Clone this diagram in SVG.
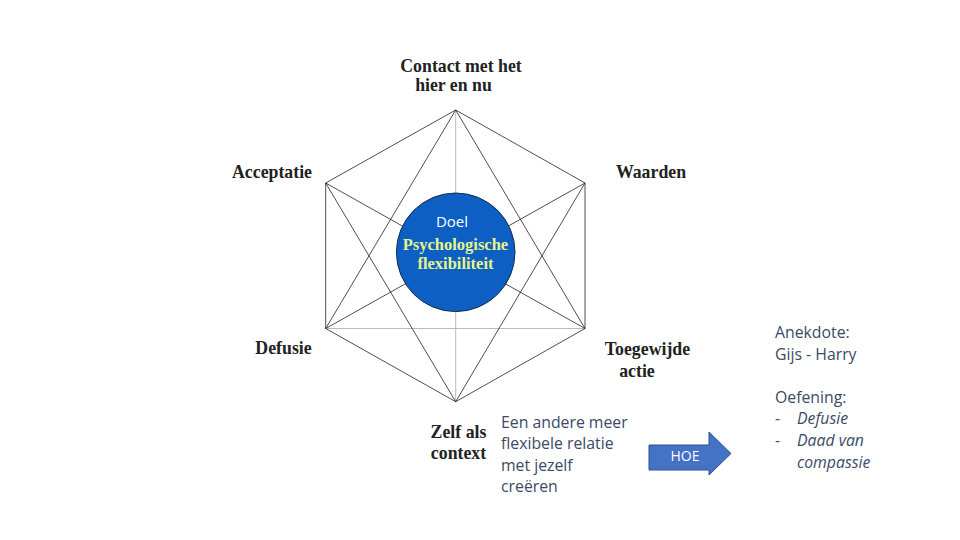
<svg xmlns="http://www.w3.org/2000/svg" width="960" height="540" viewBox="0 0 960 540">
<style>
.lbl{font-family:"Liberation Serif","Times New Roman",serif;font-weight:bold;font-size:17.8px;fill:#222}
.ln{stroke:#222;stroke-width:0.8;fill:none}
.gl{stroke:#aaa;stroke-width:0.8;fill:none}
.txt{font-family:"Open Sans","Noto Sans",sans-serif;font-size:15.8px;fill:#3b4a66}
.inner{font-family:"Liberation Serif","Times New Roman",serif;font-weight:bold;font-size:16.5px;fill:#e6f58a}
</style>
<rect width="960" height="540" fill="#fff"/>
<g id="connectors">
<line class="gl" x1="455.7" y1="110" x2="455.7" y2="401.7"/>
<line class="gl" x1="325.7" y1="328.5" x2="585" y2="328.5"/>
<polygon class="ln" points="455.7,110 585,183 585,328.5 455.7,401.7 325.7,328.5 325.7,183"/>
<line class="ln" x1="455.7" y1="110" x2="325.7" y2="328.5"/>
<line class="ln" x1="455.7" y1="110" x2="585" y2="328.5"/>
<line class="ln" x1="455.7" y1="401.7" x2="325.7" y2="183"/>
<line class="ln" x1="455.7" y1="401.7" x2="585" y2="183"/>
<line class="ln" x1="325.7" y1="183" x2="585" y2="328.5"/>
<line class="ln" x1="585" y1="183" x2="325.7" y2="328.5"/>
</g>
<g id="center">
<circle cx="455.7" cy="252.3" r="59.3" fill="#0d5fc4" stroke="#1b2a4a" stroke-width="1"/>
<text x="452" y="227" text-anchor="middle" font-family="'Open Sans','Noto Sans',sans-serif" font-size="15" fill="#fff">Doel</text>
<text class="inner" x="455.5" y="249.5" text-anchor="middle">Psychologische</text>
<text class="inner" x="455.5" y="268.5" text-anchor="middle">flexibiliteit</text>
</g>
<g id="n-contact">
<text class="lbl" x="461" y="72" text-anchor="middle">Contact met het</text>
<text class="lbl" x="453.5" y="91" text-anchor="middle">hier en nu</text>
</g>
<g id="n-acceptatie"><text class="lbl" x="272" y="178" text-anchor="middle">Acceptatie</text></g>
<g id="n-waarden"><text class="lbl" x="651" y="178" text-anchor="middle">Waarden</text></g>
<g id="n-defusie"><text class="lbl" x="283.5" y="354" text-anchor="middle">Defusie</text></g>
<g id="n-toegewijde">
<text class="lbl" x="647.5" y="355" text-anchor="middle">Toegewijde</text>
<text class="lbl" x="637" y="377" text-anchor="middle">actie</text>
</g>
<g id="n-zelf">
<text class="lbl" x="458.5" y="438" text-anchor="middle">Zelf als</text>
<text class="lbl" x="458.5" y="459" text-anchor="middle">context</text>
</g>
<g id="n-relatie">
<text class="txt" x="501" y="428">Een andere meer</text>
<text class="txt" x="501" y="449">flexibele relatie</text>
<text class="txt" x="501" y="471">met jezelf</text>
<text class="txt" x="501" y="492">creëren</text>
</g>
<g id="n-hoe">
<polygon points="649,445 709,445 709,432 731,453.5 709,475 709,470 649,470" fill="#4472c4" stroke="#2f528f" stroke-width="1"/>
<text x="685" y="461" text-anchor="middle" font-family="'Open Sans','Noto Sans',sans-serif" font-size="14" fill="#fff">HOE</text>
</g>
<g id="n-anekdote">
<text class="txt" x="775" y="338">Anekdote:</text>
<text class="txt" x="775" y="360">Gijs - Harry</text>
<text class="txt" x="775" y="403">Oefening:</text>
<text class="txt" x="775" y="424">-</text>
<text class="txt" x="797" y="424" font-style="italic">Defusie</text>
<text class="txt" x="775" y="446">-</text>
<text class="txt" x="797" y="446" font-style="italic">Daad van</text>
<text class="txt" x="797" y="468" font-style="italic">compassie</text>
</g>
</svg>
